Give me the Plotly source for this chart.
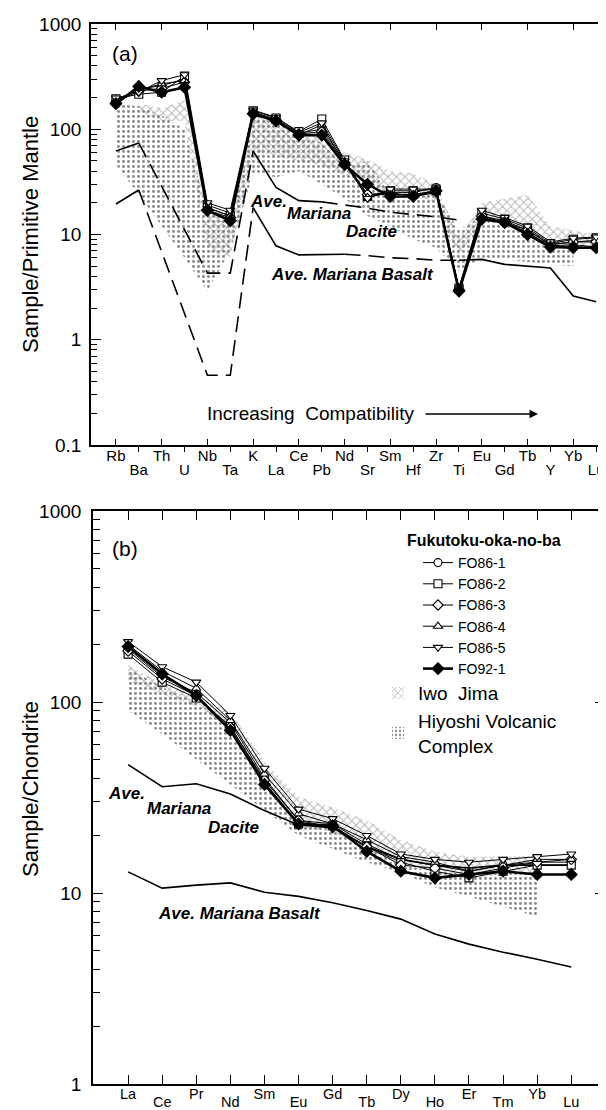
import plotly.graph_objects as go

W, H = 606, 1110
FONT = "Liberation Sans, Arial, Helvetica, sans-serif"

# ---------------- panel (a): spider diagram (primitive-mantle normalised) ----------------
elems_a = ["Rb", "Ba", "Th", "U", "Nb", "Ta", "K", "La", "Ce", "Pb", "Nd", "Sr",
           "Sm", "Hf", "Zr", "Ti", "Eu", "Gd", "Tb", "Y", "Yb", "Lu"]
fo86_1_a = [185, 240, 260, 300, 19, 16, 145, 125, 92, 100, 50, 24, 25, 25, 28, 3.0, 15, 13, 11, 8.0, 8.5, 8.8]
fo86_2_a = [195, 215, 225, 320, 18, 15, 150, 128, 95, 125, 51, 23, 26, 26, 27, 3.1, 16, 14, 11.5, 8.2, 9.0, 9.3]
fo86_3_a = [180, 230, 245, 280, 17, 14.5, 140, 122, 90, 95, 48, 24, 24, 24, 26, 3.0, 15, 13.5, 11, 8.0, 8.5, 8.5]
fo86_4_a = [190, 235, 270, 290, 18, 15, 145, 120, 88, 110, 47, 22.5, 25, 23, 25, 3.0, 14.5, 13, 10.5, 7.8, 8.0, 7.6]
fo86_5_a = [198, 225, 290, 330, 20, 17, 152, 130, 93, 115, 50, 22, 27, 27, 27, 3.1, 17, 14.5, 12, 8.5, 9.2, 9.5]
fo92_1_a = [175, 255, 225, 250, 17, 13.5, 140, 120, 88, 88, 46, 30, 23, 23, 26, 2.9, 14, 13, 10, 7.6, 7.5, 7.5]
dacite_a = [62, 74, None, None, 4.3, 4.3, 62, 28, 21, 20.4, 19.0, 17.8, 16.3, 15.6, 14.7, 13.7,
            None, None, None, None, None, None]
basalt_a = [19.5, 26.5, None, None, 0.46, 0.46, 18, 7.8, 6.4, 6.4, 6.5, 6.3, 6.0, 5.9, 5.7, 5.7, 5.8,
            5.2, 5.0, 4.8, 2.6, 2.3]
iwo_a_hi = [None, 177, 158, 190, 19, 13, 140, 122, 90, 88, 60, 52, 40, 38, 30, 9, 20, 22, 24, 12, 11, 10]
iwo_a_lo = [None, 150, 120, 120, 7, 6, 62, 55, 50, 45, 37, 30, 24, 24, 20, 6, 14, 13, 11, 8.5, 7.5, 7.5]
hiy_a_hi = [175, 165, 135, 100, 17, 14, 145, 118, 86, 75, 45, 50, 24, 22, 25, 11, 15, 13, 11, 9, 8, None]
hiy_a_lo = [46, 24, 12, 6, 2.9, 7, 38, 35, 40, 30, 22, 15, 12, 9, 7.5, 4.5, 6, 5.8, 5.5, 5.2, 5.0, None]
# dash style of the average lines, per index range
dacite_a_style = [(0, 1, "solid"), (1, 6, "dash"), (6, 9, "solid"), (9, 15, "dash")]
basalt_a_style = [(0, 1, "solid"), (1, 6, "dash"), (6, 10, "solid"), (10, 15, "dash"), (15, 21, "solid")]

# ---------------- panel (b): REE (chondrite normalised) ----------------
elems_b = ["La", "Ce", "Pr", "Nd", "Sm", "Eu", "Gd", "Tb", "Dy", "Ho", "Er", "Tm", "Yb", "Lu"]
fo86_1_b = [190, 135, 112, 78, 40, 24, 23, 18, 15, 14, 13, 14, 14.5, 14.5]
fo86_2_b = [178, 127, 105, 75, 38, 23, 22.5, 17.5, 14.5, 13, 12, 13, 14, 14]
fo86_3_b = [185, 132, 108, 74, 39, 24, 22, 17.5, 14, 13.5, 12.5, 13.5, 14.5, 15]
fo86_4_b = [200, 145, 118, 80, 42, 26, 23, 19, 15.5, 14.5, 13, 14, 15, 15]
fo86_5_b = [207, 153, 127, 85, 45, 27.5, 24.5, 20, 16, 15, 14.5, 15, 15.5, 16]
fo92_1_b = [195, 140, 108, 71, 37, 23, 22.5, 16.5, 13, 12, 12.5, 13, 12.5, 12.5]
dacite_b = [47, 36, 37.3, 33, 27, 22.7, 22, 17.5, 15, 14, 13.5, 14, 14, 14]
basalt_b = [12.9, 10.6, 11.0, 11.3, 10.1, 9.6, 8.9, 8.1, 7.3, 6.1, 5.4, 4.9, 4.5, 4.1]
iwo_b_hi = [156, 125, 108, 89, 49, 32, 28, 24, 19, 16.5, 15.5, 15.6, 15.6, None]
iwo_b_lo = [130, 110, 95, 72, 36, 22, 21, 17, 14, 13, 12, 12.5, 12.5, None]
hiy_b_hi = [150, 120, 100, 75, 40, 24, 22, 17.5, 14, 13, 12.5, 13, 13, None]
hiy_b_lo = [90, 68, 50, 37, 27, 20, 17, 14.5, 12.8, 10.7, 9.6, 8.5, 7.5, None]

samples = ["FO86-1", "FO86-2", "FO86-3", "FO86-4", "FO86-5", "FO92-1"]
symbols = ["circle", "square", "diamond", "triangle-up", "triangle-down", "diamond"]
series_a = [fo86_1_a, fo86_2_a, fo86_3_a, fo86_4_a, fo86_5_a, fo92_1_a]
series_b = [fo86_1_b, fo86_2_b, fo86_3_b, fo86_4_b, fo86_5_b, fo92_1_b]


def px(x):
    return x / W


def py(y):
    return 1 - y / H


def envelope(hi, lo):
    idx = [i for i in range(len(hi)) if hi[i] is not None and lo[i] is not None]
    xs = idx + idx[::-1]
    ys = [hi[i] for i in idx] + [lo[i] for i in idx[::-1]]
    return xs, ys


fig = go.Figure()

CROSS = dict(shape="x", fgcolor="#6e6e6e", size=6, solidity=0.3)
DOTS = dict(shape=".", fgcolor="#111111", size=5, solidity=0.28)


def add_panel(xa, ya, hiy_hi, hiy_lo, iwo_hi, iwo_lo, avg_lines, series, legend):
    hx, hy = envelope(hiy_hi, hiy_lo)
    fig.add_trace(go.Scatter(x=hx, y=hy, fill="toself", mode="lines", line=dict(width=0, color="black"),
                             fillcolor="rgba(0,0,0,0)", fillpattern=DOTS, xaxis=xa, yaxis=ya,
                             showlegend=False, hoverinfo="skip"))
    ix, iy = envelope(iwo_hi, iwo_lo)
    fig.add_trace(go.Scatter(x=ix, y=iy, fill="toself", mode="lines", line=dict(width=0, color="black"),
                             fillcolor="rgba(0,0,0,0)", fillpattern=CROSS, xaxis=xa, yaxis=ya,
                             showlegend=False, hoverinfo="skip"))
    for vals, styles in avg_lines:
        for (s, e, d) in styles:
            xs = list(range(s, e + 1))
            ys = vals[s:e + 1]
            fig.add_trace(go.Scatter(x=xs, y=ys, mode="lines", connectgaps=True,
                                     line=dict(color="black", width=1.6,
                                               dash="solid" if d == "solid" else "16px,8px"),
                                     xaxis=xa, yaxis=ya, showlegend=False, hoverinfo="skip"))
    for name, sym, vals in zip(samples, symbols, series):
        filled = name == "FO92-1"
        fig.add_trace(go.Scatter(
            x=list(range(len(vals))), y=vals, mode="lines+markers", name=name,
            line=dict(color="black", width=2.6 if filled else 1.0),
            marker=dict(symbol=sym, size=9 if filled else 8,
                        color="black" if filled else "white",
                        line=dict(color="black", width=1.1)),
            xaxis=xa, yaxis=ya, showlegend=legend, legend="legend"))


add_panel("x", "y", hiy_a_hi, hiy_a_lo, iwo_a_hi, iwo_a_lo,
          [(dacite_a, dacite_a_style), (basalt_a, basalt_a_style)], series_a, False)
add_panel("x2", "y2", hiy_b_hi, hiy_b_lo, iwo_b_hi, iwo_b_lo,
          [(dacite_b, [(0, 13, "solid")]), (basalt_b, [(0, 13, "solid")])], series_b, True)

# legend swatches for the two shaded fields (legend-only entries, no data)
fig.add_trace(go.Bar(x=[None], y=[None], xaxis="x2", yaxis="y2", name="Iwo  Jima", legend="legend2",
                     marker=dict(color="rgba(0,0,0,0)", line=dict(width=0), pattern=CROSS)))
fig.add_trace(go.Bar(x=[None], y=[None], xaxis="x2", yaxis="y2", name="Hiyoshi Volcanic<br>Complex",
                     legend="legend2",
                     marker=dict(color="rgba(0,0,0,0)", line=dict(width=0), pattern=DOTS)))
# empty traces so the overlaid label axes are created
fig.add_trace(go.Scatter(x=[], y=[], xaxis="x3", yaxis="y", showlegend=False, hoverinfo="skip"))
fig.add_trace(go.Scatter(x=[], y=[], xaxis="x4", yaxis="y2", showlegend=False, hoverinfo="skip"))

# ---------- axes ----------
minor_vals = [m * 10 ** k for k in range(-1, 3) for m in range(2, 10)]
ytick_vals = [0.1, 1, 10, 100, 1000]
ytick_text = ["0.1", "1", "10", "100", "1000"]
AX = dict(showgrid=False, zeroline=False, linecolor="black", linewidth=1.6, tickcolor="black",
          tickwidth=1.4, tickfont=dict(family=FONT, size=15, color="black"))

even_a = list(range(0, len(elems_a), 2))
odd_a = list(range(1, len(elems_a), 2))
even_b = list(range(0, len(elems_b), 2))
odd_b = list(range(1, len(elems_b), 2))

dom_xa = [83 / W, 1.0]
dom_ya = [py(437), py(16)]
dom_xb = [85 / W, 597 / W]
dom_yb = [py(1076), py(503)]
rng_xa = [-1.09, 21.78]
rng_xb = [-1.03, 13.99]

fig.update_layout(
    xaxis=dict(AX, domain=dom_xa, range=rng_xa, anchor="y", tickmode="array", tickvals=even_a,
               ticktext=[elems_a[i] for i in even_a], ticks="inside", ticklen=6, showline=True,
               mirror="ticks", ticklabelstandoff=-4),
    xaxis3=dict(AX, domain=dom_xa, range=rng_xa, anchor="y", overlaying="x", tickmode="array",
                tickvals=odd_a, ticktext=[elems_a[i] for i in odd_a], ticks="outside", ticklen=6,
                showline=False, ticklabelstandoff=5),
    yaxis=dict(AX, domain=dom_ya, type="log", range=[-1, 3], anchor="x", tickmode="array",
               tickvals=ytick_vals, ticktext=ytick_text, ticks="inside", ticklen=10, showline=True,
               mirror=False, tickfont=dict(family=FONT, size=19, color="black"), ticklabelstandoff=4,
               minor=dict(tickvals=minor_vals, ticks="inside", ticklen=6, tickcolor="black", tickwidth=1.2)),
    xaxis2=dict(AX, domain=dom_xb, range=rng_xb, anchor="y2", tickmode="array", tickvals=even_b,
                ticktext=[elems_b[i] for i in even_b], ticks="inside", ticklen=9, showline=True,
                mirror="ticks", ticklabelstandoff=-4, tickfont=dict(family=FONT, size=14.5, color="black")),
    xaxis4=dict(AX, domain=dom_xb, range=rng_xb, anchor="y2", overlaying="x2", tickmode="array",
                tickvals=odd_b, ticktext=[elems_b[i] for i in odd_b], ticks="inside", ticklen=9,
                showline=False, mirror="ticks", ticklabelstandoff=7,
                tickfont=dict(family=FONT, size=14.5, color="black")),
    yaxis2=dict(AX, domain=dom_yb, type="log", range=[0, 3], anchor="x2", tickmode="array",
                tickvals=ytick_vals[1:], ticktext=ytick_text[1:], ticks="inside", ticklen=10,
                showline=True, mirror="ticks", tickfont=dict(family=FONT, size=19, color="black"),
                ticklabelstandoff=6,
                minor=dict(tickvals=[v for v in minor_vals if v > 1], ticks="inside", ticklen=7,
                           tickcolor="black", tickwidth=1.2)),
)

fig.update_layout(
    width=W, height=H, margin=dict(l=0, r=0, t=0, b=0, autoexpand=False),
    paper_bgcolor="white", plot_bgcolor="white",
    font=dict(family=FONT, color="black"),
    legend=dict(x=px(410), y=py(539), xanchor="left", yanchor="top", bgcolor="rgba(0,0,0,0)",
                font=dict(family=FONT, size=14, color="black"),
                itemclick=False, itemdoubleclick=False),
    legend2=dict(x=px(370), y=py(666), xanchor="left", yanchor="top", bgcolor="rgba(0,0,0,0)",
                 font=dict(family=FONT, size=19, color="black"),
                 itemclick=False, itemdoubleclick=False),
)

ann = []


def text(x, y, s, size, xanchor="left", bold_italic=False, angle=0, bold=False):
    if bold_italic:
        s = "<b><i>" + s + "</i></b>"
    if bold:
        s = "<b>" + s + "</b>"
    ann.append(dict(x=px(x), y=py(y), xref="paper", yref="paper", text=s, showarrow=False,
                    xanchor=xanchor, yanchor="middle", textangle=angle,
                    font=dict(family=FONT, size=size, color="black")))


text(102, 45, "(a)", 21)
text(102, 540, "(b)", 21)
text(22, 227, "Sample/Primitive Mantle", 22, xanchor="center", angle=-90)
text(22, 781, "Sample/Chondrite", 22, xanchor="center", angle=-90)
text(397, 532, "Fukutoku-oka-no-ba", 16, "left", bold=True)
# panel (a) average labels
text(260, 193, "Ave.", 17, "center", True)
text(311, 205, "Mariana", 17, "center", True)
text(363, 224, "Dacite", 17, "center", True)
text(261, 266, "Ave. Mariana Basalt", 17, "left", True)
text(197, 405, "Increasing  Compatibility", 19, "left")
ann.append(dict(x=px(530), y=py(406), xref="paper", yref="paper", ax=-114, ay=0,
                axref="pixel", ayref="pixel", text="", showarrow=True, arrowhead=2, arrowsize=1.3,
                arrowwidth=1.3, arrowcolor="black"))
# panel (b) average labels
text(118, 785, "Ave.", 17, "center", True)
text(171, 800, "Mariana", 17, "center", True)
text(225, 819, "Dacite", 17, "center", True)
text(148, 905, "Ave. Mariana Basalt", 17, "left", True)

fig.update_layout(annotations=ann)

fig.write_html("out.html")
